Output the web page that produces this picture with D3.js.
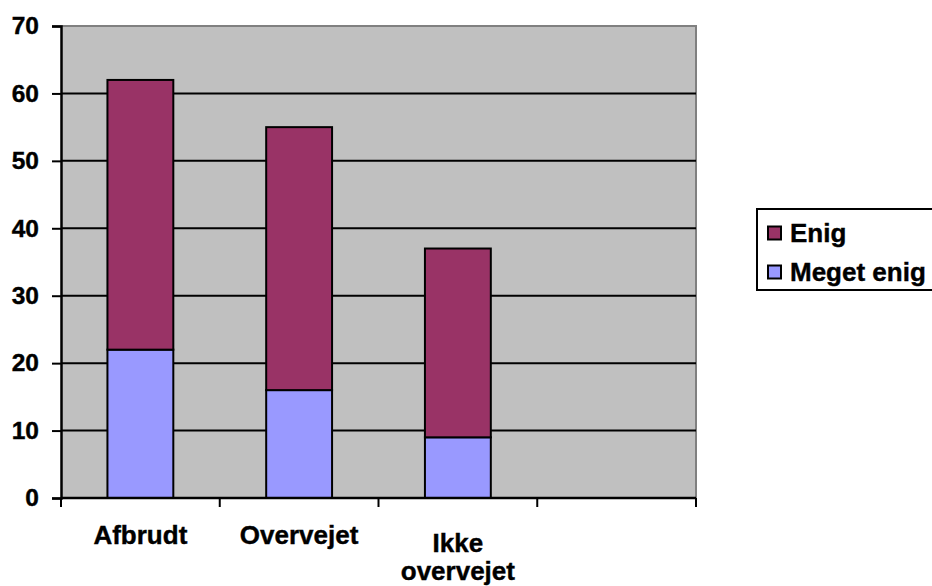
<!DOCTYPE html>
<html>
<head>
<meta charset="utf-8">
<script src="https://cdn.jsdelivr.net/npm/d3@7"></script>
<style>
  html, body { margin: 0; padding: 0; background: #ffffff; }
  svg { display: block; font-family: "Liberation Sans", Arial, sans-serif; font-weight: 700; }
  text { stroke: #000; stroke-width: 0.4px; }
</style>
</head>
<body>
<svg id="chart" width="932" height="586"></svg>
<script>
// Categories (the fourth slot is empty on the axis)
const categories = ["Afbrudt", "Overvejet", "Ikke overvejet", ""];
const seriesNames = ["Meget enig", "Enig"];
const megetEnig = [22, 16, 9, null];
const enig = [40, 39, 28, null];
const yTicks = [0, 10, 20, 30, 40, 50, 60, 70];
const colors = { "Meget enig": "#9999ff", "Enig": "#993366" };

const FONT = 26;
const svg = d3.select("#chart");
const plot = { left: 61, top: 26, right: 696, bottom: 498 };

const x = d3.scaleBand()
  .domain(categories.map((c, i) => i))
  .range([plot.left, plot.right])
  .paddingInner(0.585)
  .paddingOuter(0.2925);

const y = d3.scaleLinear().domain([0, 70]).range([plot.bottom, plot.top]);

// Plot background
svg.append("rect")
  .attr("x", plot.left).attr("y", plot.top)
  .attr("width", plot.right - plot.left).attr("height", plot.bottom - plot.top)
  .attr("fill", "#c0c0c0");

// Gray frame on top and right
svg.append("path")
  .attr("d", `M${plot.left},${plot.top}H${plot.right}V${plot.bottom}`)
  .attr("fill", "none").attr("stroke", "#808080").attr("stroke-width", 2);

// Horizontal gridlines
svg.append("g").selectAll("line")
  .data(yTicks.filter(t => t > 0 && t < 70))
  .join("line")
  .attr("x1", plot.left).attr("x2", plot.right)
  .attr("y1", d => y(d)).attr("y2", d => y(d))
  .attr("stroke", "#000").attr("stroke-width", 2);

// Stacked bars
const rows = categories.map((c, i) => ({ i, "Meget enig": megetEnig[i], "Enig": enig[i] }))
  .filter(r => r["Meget enig"] != null);
const stacked = d3.stack().keys(seriesNames)(rows);

svg.append("g").selectAll("g")
  .data(stacked)
  .join("g")
  .attr("fill", d => colors[d.key])
  .selectAll("rect")
  .data(d => d)
  .join("rect")
  .attr("x", d => x(d.data.i))
  .attr("width", x.bandwidth())
  .attr("y", d => y(d[1]))
  .attr("height", d => y(d[0]) - y(d[1]))
  .attr("stroke", "#000").attr("stroke-width", 2);

// Y axis
const yAxis = d3.axisLeft(y).tickValues(yTicks).tickSize(9).tickPadding(13).tickFormat(d3.format("d"));
const gy = svg.append("g").attr("transform", `translate(${plot.left},0)`).call(yAxis);
gy.select(".domain").attr("stroke", "#000").attr("stroke-width", 2.5);
gy.selectAll(".tick line").attr("stroke", "#000").attr("stroke-width", 2);
gy.selectAll(".tick text")
  .attr("fill", "#000").attr("font-size", 24.5).attr("font-weight", 700)
  .attr("font-family", "Liberation Sans, Arial, sans-serif");

// X axis line and tick marks on category boundaries
svg.append("line")
  .attr("x1", plot.left).attr("x2", plot.right)
  .attr("y1", plot.bottom).attr("y2", plot.bottom)
  .attr("stroke", "#000").attr("stroke-width", 2.5);
svg.append("g").selectAll("line")
  .data(d3.range(categories.length + 1))
  .join("line")
  .attr("x1", i => x(0) - x.step() * x.paddingOuter() + i * x.step())
  .attr("x2", i => x(0) - x.step() * x.paddingOuter() + i * x.step())
  .attr("y1", plot.bottom).attr("y2", plot.bottom + 9)
  .attr("stroke", "#000").attr("stroke-width", 2);

// Category labels (long names wrap onto two lines)
const labels = svg.append("g").attr("font-size", FONT).attr("text-anchor", "middle").attr("fill", "#000");
categories.forEach((c, i) => {
  if (!c) return;
  const cx = x(i) + x.bandwidth() / 2;
  const words = c.length > 10 ? c.split(" ") : [c];
  const t = labels.append("text").attr("x", cx).attr("y", words.length > 1 ? 552 : 544);
  words.forEach((w, k) => {
    t.append("tspan").attr("x", cx).attr("dy", k === 0 ? 0 : 28).text(w);
  });
});

// Legend
const legend = svg.append("g");
legend.append("rect")
  .attr("x", 757).attr("y", 209).attr("width", 190).attr("height", 81)
  .attr("fill", "#fff").attr("stroke", "#000").attr("stroke-width", 2);
const legendItems = ["Enig", "Meget enig"];
legendItems.forEach((name, k) => {
  const cy = 233 + k * 39;
  legend.append("rect")
    .attr("x", 768).attr("y", cy - 6.5).attr("width", 13).attr("height", 13)
    .attr("fill", colors[name]).attr("stroke", "#000").attr("stroke-width", 2);
  legend.append("text")
    .attr("x", 790).attr("y", cy + 9)
    .attr("font-size", FONT).attr("fill", "#000").text(name);
});
</script>
</body>
</html>
